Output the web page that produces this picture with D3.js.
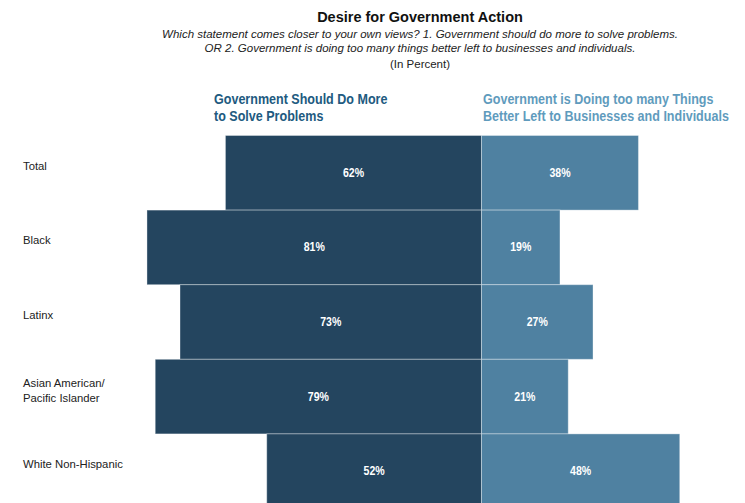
<!DOCTYPE html>
<html>
<head>
<meta charset="utf-8">
<script src="https://cdn.jsdelivr.net/npm/d3@7"></script>
<style>
  html, body { margin: 0; padding: 0; background: #fff; }
  svg { display: block; }
</style>
</head>
<body>
<div id="chart"></div>
<script>
// Survey responses by group (percent)
const categories = ["Total", "Black", "Latinx", "Asian American/\nPacific Islander", "White Non-Hispanic"];
const doMore = [62, 81, 73, 79, 52];       // Government should do more to solve problems
const doingTooMuch = [38, 19, 27, 21, 48]; // Government is doing too many things

const title = "Desire for Government Action";
const subtitleLines = [
  "Which statement comes closer to your own views? 1. Government should do more to solve problems.",
  "OR 2. Government is doing too many things better left to businesses and individuals.",
  "(In Percent)"
];
const leftHeader = ["Government Should Do More", "to Solve Problems"];
const rightHeader = ["Government is Doing too many Things", "Better Left to Businesses and Individuals"];

const W = 745, H = 503;
const darkBlue = "#24455f";
const lightBlue = "#4f81a1";
const regular = "'Liberation Sans', Arial, sans-serif";

const svg = d3.select("#chart").append("svg")
  .attr("width", W).attr("height", H);

const centerX = 481.5;
const pxPerPct = 4.13;

// Diverging scales from the shared centre line
const xLeft = d3.scaleLinear().domain([0, 100]).range([centerX, centerX - 100 * pxPerPct]);
const xRight = d3.scaleLinear().domain([0, 100]).range([centerX, centerX + 100 * pxPerPct]);
const y = d3.scaleBand().domain(categories).range([135.5, 135.5 + 5 * 74.6]).padding(0);

// Title block
svg.append("text")
  .attr("x", 420).attr("y", 22)
  .attr("text-anchor", "middle")
  .attr("font-family", regular).attr("font-weight", "bold")
  .attr("font-size", 14.5).attr("fill", "#111")
  .text(title);

const subY = [37.5, 52, 68];
svg.selectAll("text.sub").data(subtitleLines).join("text")
  .attr("class", "sub")
  .attr("x", 420).attr("y", (d, i) => subY[i])
  .attr("text-anchor", "middle")
  .attr("font-family", regular)
  .attr("font-style", (d, i) => i < 2 ? "italic" : "normal")
  .attr("font-size", 11.5).attr("fill", "#222")
  .text(d => d);

// Condensed text: placed via a horizontally squeezed transform
function condensedText(parent, x, yPos, str, factor) {
  return parent.append("text")
    .attr("transform", `translate(${x},${yPos}) scale(${factor},1)`)
    .text(str);
}

// Column headers
function header(lines, x, color) {
  const hg = svg.append("g")
    .attr("font-family", regular).attr("font-weight", "bold")
    .attr("font-size", 14.5).attr("fill", color);
  lines.forEach((line, i) => condensedText(hg, x, 104 + i * 17, line, 0.865));
}
header(leftHeader, 214, "#215a80");
header(rightHeader, 483, "#5f9bbd");

// Bars
const rows = categories.map((c, i) => ({ cat: c, left: doMore[i], right: doingTooMuch[i] }));

const g = svg.append("g");
g.selectAll("rect.left").data(rows).join("rect")
  .attr("class", "left")
  .attr("x", d => xLeft(d.left))
  .attr("y", d => y(d.cat))
  .attr("width", d => centerX - xLeft(d.left))
  .attr("height", y.bandwidth())
  .attr("fill", darkBlue)
  .attr("stroke", "rgba(255,255,255,0.35)").attr("stroke-width", 1);

g.selectAll("rect.right").data(rows).join("rect")
  .attr("class", "right")
  .attr("x", centerX)
  .attr("y", d => y(d.cat))
  .attr("width", d => xRight(d.right) - centerX)
  .attr("height", y.bandwidth())
  .attr("fill", lightBlue)
  .attr("stroke", "rgba(255,255,255,0.35)").attr("stroke-width", 1);

// Value labels
const vg = g.append("g")
  .attr("font-family", regular).attr("font-weight", "bold")
  .attr("font-size", 12).attr("fill", "#fff")
  .attr("text-anchor", "middle");
rows.forEach(d => {
  const cy = y(d.cat) + y.bandwidth() / 2 + 4;
  condensedText(vg, (xLeft(d.left) + centerX) / 2, cy, d.left + "%", 0.88);
  condensedText(vg, (xRight(d.right) + centerX) / 2, cy, d.right + "%", 0.88);
});

// Category labels
g.selectAll("text.cat").data(rows).join("text")
  .attr("class", "cat")
  .attr("font-family", regular)
  .attr("font-size", 11.3).attr("fill", "#222")
  .each(function (d) {
    const lines = d.cat.split("\n");
    const base = y(d.cat) + y.bandwidth() / 2 - 3 - (lines.length - 1) * 7;
    d3.select(this).selectAll("tspan").data(lines).join("tspan")
      .attr("x", 23)
      .attr("y", (l, i) => base + i * 15)
      .text(l => l);
  });
</script>
</body>
</html>
